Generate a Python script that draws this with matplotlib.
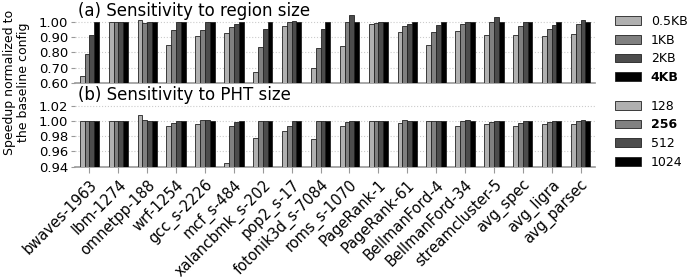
import matplotlib
matplotlib.use("Agg")
import matplotlib.pyplot as plt
import numpy as np

categories = ["bwaves-1963", "lbm-1274", "omnetpp-188", "wrf-1254", "gcc_s-2226",
              "mcf_s-484", "xalancbmk_s-202", "pop2_s-17", "fotonik3d_s-7084",
              "roms_s-1070", "PageRank-1", "PageRank-61", "BellmanFord-4",
              "BellmanFord-34", "streamcluster-5", "avg_spec", "avg_ligra", "avg_parsec"]

region_labels = ["0.5KB", "1KB", "2KB", "4KB"]
region_05kb = [0.643, 0.995, 1.011, 0.849, 0.908, 0.925, 0.669, 0.972, 0.695,
               0.843, 0.985, 0.931, 0.849, 0.942, 0.914, 0.912, 0.908, 0.920]
region_1kb = [0.791, 0.995, 0.994, 0.944, 0.948, 0.968, 0.837, 0.998, 0.830,
              0.996, 0.991, 0.972, 0.933, 0.983, 1.000, 0.972, 0.953, 0.985]
region_2kb = [0.914, 0.997, 1.000, 0.996, 0.996, 0.985, 0.951, 1.003, 0.951,
              1.041, 0.998, 0.985, 0.976, 1.000, 1.034, 1.000, 0.976, 1.011]
region_4kb = [1.0] * 18

pht_labels = ["128", "256", "512", "1024"]
pht_128 = [1.000, 1.000, 1.0077, 0.9936, 0.9957, 0.9455, 0.978, 0.987, 0.9766,
           0.9928, 1.000, 0.998, 1.000, 0.9936, 0.9966, 0.9932, 0.9966, 0.9966]
pht_256 = [1.000, 1.000, 1.001, 0.997, 1.001, 0.9932, 1.000, 0.994, 1.000,
           0.9987, 1.000, 1.0013, 1.000, 1.000, 0.9987, 0.9979, 0.9991, 1.000]
pht_512 = [1.000, 1.000, 1.000, 1.000, 1.001, 0.9983, 1.000, 1.000, 1.000,
           1.000, 1.000, 1.000, 1.000, 1.0013, 0.9996, 0.9996, 1.000, 1.0013]
pht_1024 = [1.0] * 18

colors = ["#b0b0b0", "#808080", "#4c4c4c", "#000000"]

fig = plt.figure(figsize=(6.95, 2.77), dpi=100)
ax1 = fig.add_axes([75/695, 1-83/277, 520/695, 76.6/277])
ax2 = fig.add_axes([75/695, 1-166.7/277, 520/695, 76.2/277])

x = np.arange(len(categories))
w = 0.167

def draw(ax, series, labels, ylim, yticks, title):
    handles = []
    for j, vals in enumerate(series):
        b = ax.bar(x + (j - 1.5) * w, np.array(vals) - ylim[0], w, bottom=ylim[0],
                   color=colors[j], edgecolor="#222222", linewidth=0.6, label=labels[j],
                   zorder=3)
        handles.append(b)
    ax.set_xlim(-0.5, len(categories) - 0.5)
    ax.set_ylim(*ylim)
    ax.set_yticks(yticks)
    ax.set_yticklabels(["%.2f" % v for v in yticks], fontsize=9.5)
    ax.yaxis.grid(True, linestyle=":", color="#cccccc", linewidth=0.8, zorder=0)
    ax.set_axisbelow(True)
    for s in ["top", "right", "left"]:
        ax.spines[s].set_visible(False)
    ax.spines["bottom"].set_color("#999999")
    ax.spines["bottom"].set_linewidth(1.2)
    ax.tick_params(axis="y", length=3, color="#999999", pad=2)
    ax.tick_params(axis="x", length=4, color="#999999")
    ax.text(0.005, 1 - 10/76.5, title, transform=ax.transAxes, fontsize=12,
            va="baseline", ha="left")
    return handles

h1 = draw(ax1, [region_05kb, region_1kb, region_2kb, region_4kb], region_labels,
          (0.6, 1.1), [0.6, 0.7, 0.8, 0.9, 1.0], "(a) Sensitivity to region size")
h2 = draw(ax2, [pht_128, pht_256, pht_512, pht_1024], pht_labels,
          (0.94, 1.04), [0.94, 0.96, 0.98, 1.00, 1.02], "(b) Sensitivity to PHT size")

ax1.set_xticks(x)
ax1.set_xticklabels([])
ax1.tick_params(axis="x", length=0)
ax2.set_xticks(x)
ax2.set_xticklabels(categories, rotation=45, ha="right", rotation_mode="anchor",
                    fontsize=10.5)

leg1 = ax1.legend(handles=h1, loc="upper left", bbox_to_anchor=(0.877, 0.964),
                  bbox_transform=fig.transFigure, frameon=False, fontsize=9,
                  handlelength=2.1, labelspacing=0.46, handletextpad=0.8, borderaxespad=0)
leg1.get_texts()[3].set_fontweight("bold")
leg2 = ax2.legend(handles=h2, loc="upper left", bbox_to_anchor=(0.877, 0.658),
                  bbox_transform=fig.transFigure, frameon=False, fontsize=9,
                  handlelength=2.1, labelspacing=0.46, handletextpad=0.8, borderaxespad=0)
leg2.get_texts()[1].set_fontweight("bold")

fig.text(0.024, 0.704, "Speedup normalized to\nthe baseline config", rotation=90,
         ha="center", va="center", fontsize=9, linespacing=1.15)

fig.savefig("out.png", dpi=100)
